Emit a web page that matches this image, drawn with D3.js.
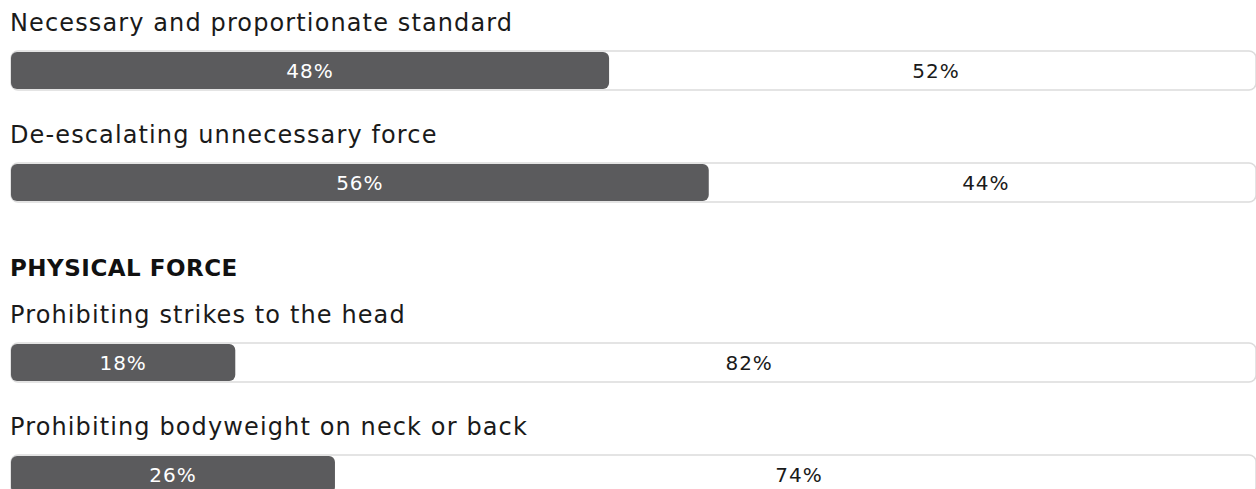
<!DOCTYPE html>
<html>
<head>
<meta charset="utf-8">
<script src="https://cdn.jsdelivr.net/npm/d3@7"></script>
<style>
  html, body { margin: 0; padding: 0; background: #fff; overflow: hidden; }
  svg { display: block; }
</style>
</head>
<body>
<svg id="chart" width="1256" height="489"></svg>
<script>
// ---- data ----
const categories = [
  "Necessary and proportionate standard",
  "De-escalating unnecessary force",
  "Prohibiting strikes to the head",
  "Prohibiting bodyweight on neck or back"
];
const yesValues = [48, 56, 18, 26];
const noValues  = [52, 44, 82, 74];
const sectionHeadings = ["PHYSICAL FORCE"];
const sectionStartIndex = [2]; // heading appears before this category

// ---- layout ----
const svg = d3.select("#chart");
const FONT = "'DejaVu Sans', sans-serif";

const x = d3.scaleLinear().domain([0, 100]).range([11, 1257]);

const barTops = [51, 163, 343, 455];
const barH = 39;

sectionHeadings.forEach((h, i) => {
  const idx = sectionStartIndex[i];
  svg.append("text")
    .attr("x", 10)
    .attr("y", barTops[idx] - 67)
    .attr("font-family", FONT)
    .attr("font-size", 23)
    .attr("font-weight", 700)
    .attr("letter-spacing", 0.5)
    .attr("fill", "#111")
    .text(h);
});

const rows = svg.selectAll("g.row")
  .data(categories.map((c, i) => ({ c, yes: yesValues[i], no: noValues[i], top: barTops[i] })))
  .join("g")
  .attr("class", "row");

rows.append("text")
  .attr("x", 10)
  .attr("y", d => d.top - 20)
  .attr("font-family", FONT)
  .attr("font-size", 24)
  .attr("letter-spacing", 1.12)
  .attr("fill", "#1a1a1a")
  .text(d => d.c);

rows.append("rect")
  .attr("x", x(0))
  .attr("y", d => d.top)
  .attr("width", x(100) - x(0) - 1)
  .attr("height", barH)
  .attr("rx", 7)
  .attr("fill", "#fff")
  .attr("stroke", "#dcdcdc")
  .attr("stroke-width", 1.5);

rows.append("rect")
  .attr("x", x(0))
  .attr("y", d => d.top + 1)
  .attr("width", d => x(d.yes) - x(0))
  .attr("height", barH - 2)
  .attr("rx", 6)
  .attr("fill", "#5b5b5d");

rows.append("text")
  .attr("x", d => (x(0) + x(d.yes)) / 2)
  .attr("y", d => d.top + barH / 2)
  .attr("dy", "0.36em")
  .attr("text-anchor", "middle")
  .attr("font-family", FONT)
  .attr("font-size", 20)
  .attr("letter-spacing", 1.0)
  .attr("fill", "#fff")
  .text(d => d.yes + "%");

rows.append("text")
  .attr("x", d => (x(d.yes) + x(100)) / 2 + 3)
  .attr("y", d => d.top + barH / 2)
  .attr("dy", "0.36em")
  .attr("text-anchor", "middle")
  .attr("font-family", FONT)
  .attr("font-size", 20)
  .attr("letter-spacing", 1.0)
  .attr("fill", "#1a1a1a")
  .text(d => d.no + "%");
</script>
</body>
</html>
